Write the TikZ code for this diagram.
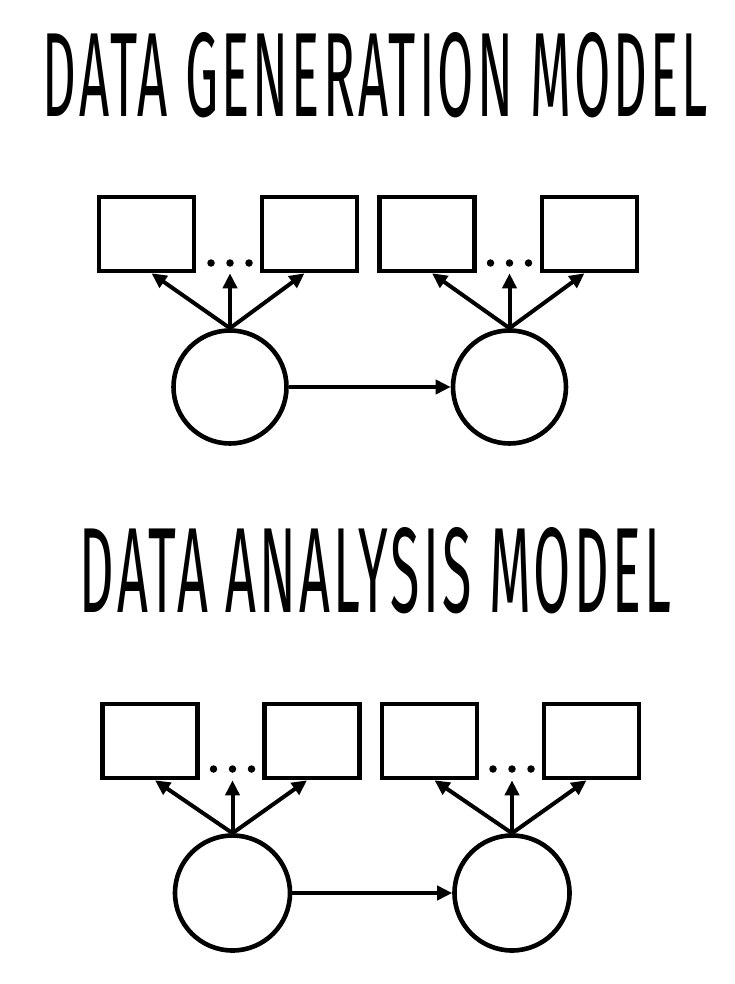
\documentclass[tikz,border=0pt]{standalone}
\usepackage{graphicx}
\usepackage{fontspec}
\setmainfont{Fira Sans}[LetterSpace=6]
\usetikzlibrary{arrows.meta}
\begin{document}
\begin{tikzpicture}[x=1pt,y=-1pt,
  obs/.style={draw, line width=4.6pt, rectangle, minimum width=95pt, minimum height=74pt, inner sep=0pt},
  lat/.style={draw, line width=4.6pt, circle, minimum size=#1, inner sep=0pt},
  lat/.default=113pt,
  arr/.style={line width=4pt, -{Triangle[length=15pt,width=14pt]}},
  dotn/.style={fill, circle, minimum size=7.5pt, inner sep=0pt},
  title/.style={inner sep=0pt, anchor=base}]
\useasboundingbox (0,0) rectangle (734,984);

% ---------- titles ----------
\node[title] (t1) at (375.5,117) {\resizebox{665pt}{84pt}{DATA GENERATION MODEL}};
\node[title] (t2) at (375.5,612) {\resizebox{591pt}{85pt}{DATA ANALYSIS MODEL}};

% ---------- top diagram ----------
\node[obs] (b1) at (146.5,234) {};
\node[obs] (b2) at (309.5,234) {};
\node[obs] (b3) at (427,234) {};
\node[obs] (b4) at (589.5,234) {};
\node[lat] (c1) at (230,387) {};
\node[lat] (c2) at (509.5,387) {};
\node[dotn] (d1) at (211,263) {};
\node[dotn] (d2) at (230,263) {};
\node[dotn] (d3) at (249,263) {};
\node[dotn] (d4) at (490.5,263) {};
\node[dotn] (d5) at (509.5,263) {};
\node[dotn] (d6) at (528.5,263) {};
\draw[arr] (c1.north) -- ([xshift=5pt]b1.south);
\draw[arr] (c1.north) -- (c1.north |- b1.south);
\draw[arr] (c1.north) -- ([xshift=-5pt]b2.south);
\draw[arr] (c2.north) -- ([xshift=5pt]b3.south);
\draw[arr] (c2.north) -- (c2.north |- b3.south);
\draw[arr] (c2.north) -- ([xshift=-5pt]b4.south);
\draw[arr] (c1.east) -- (c2.west);

% ---------- bottom diagram ----------
\node[obs] (b5) at (150,741) {};
\node[obs] (b6) at (312,741) {};
\node[obs] (b7) at (429.5,741) {};
\node[obs] (b8) at (591.5,741) {};
\node[lat=115pt] (c3) at (232.5,893) {};
\node[lat=115pt] (c4) at (512,893) {};
\node[dotn] (d7) at (213.5,769) {};
\node[dotn] (d8) at (232.5,769) {};
\node[dotn] (d9) at (251.5,769) {};
\node[dotn] (d10) at (493,769) {};
\node[dotn] (d11) at (512,769) {};
\node[dotn] (d12) at (531,769) {};
\draw[arr] (c3.north) -- ([xshift=5pt]b5.south);
\draw[arr] (c3.north) -- (c3.north |- b5.south);
\draw[arr] (c3.north) -- ([xshift=-5pt]b6.south);
\draw[arr] (c4.north) -- ([xshift=5pt]b7.south);
\draw[arr] (c4.north) -- (c4.north |- b7.south);
\draw[arr] (c4.north) -- ([xshift=-5pt]b8.south);
\draw[arr] (c3.east) -- (c4.west);
\end{tikzpicture}
\end{document}
